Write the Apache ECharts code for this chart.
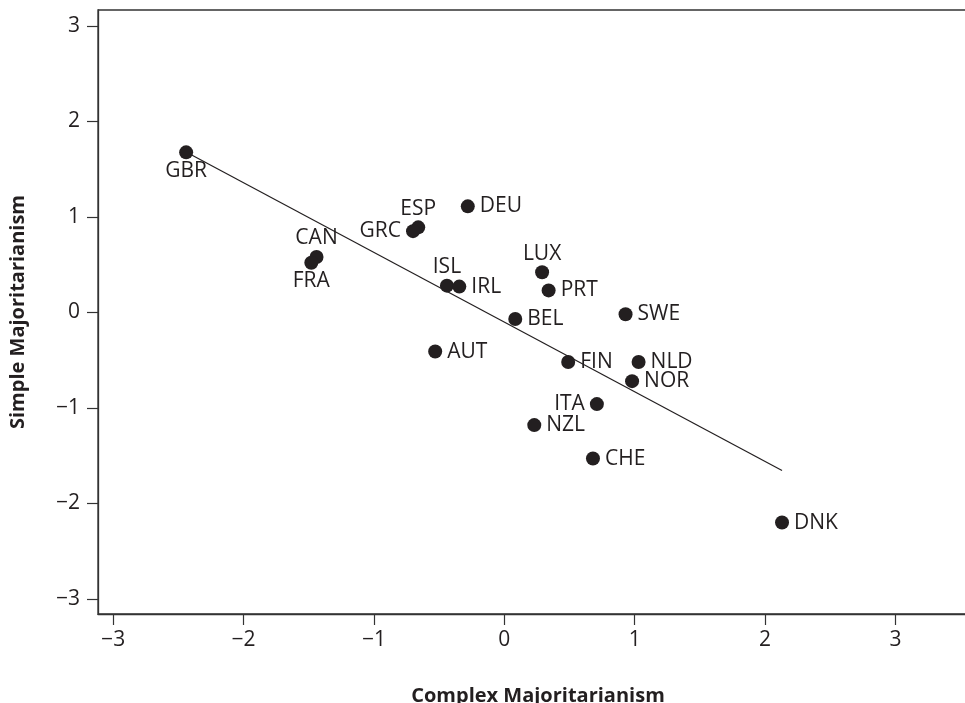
<!DOCTYPE html>
<html>
<head>
<meta charset="utf-8">
<script src="https://cdn.jsdelivr.net/npm/echarts@6/dist/echarts.min.js"></script>
<style>
html,body{margin:0;padding:0;background:#fff;}
#c{width:965px;height:703px;}
</style>
</head>
<body>
<div id="c"></div>
<script>
// Data
var countries = ['GBR','CAN','FRA','ESP','GRC','DEU','ISL','IRL','LUX','PRT','BEL','SWE','AUT','FIN','NLD','NOR','ITA','NZL','CHE','DNK'];
var complexMaj = [-2.44,-1.44,-1.48,-0.66,-0.70,-0.28,-0.44,-0.345,0.29,0.34,0.084,0.93,-0.53,0.49,1.03,0.98,0.71,0.23,0.68,2.13];
var simpleMaj  = [1.675,0.58,0.52,0.89,0.85,1.11,0.28,0.27,0.42,0.23,-0.07,-0.02,-0.41,-0.52,-0.52,-0.72,-0.96,-1.18,-1.53,-2.20];
var labelPos   = ['bottom','top','bottom','top','left','right','top','right','top','right','right','right','right','right','right','right','left','right','right','right'];
var fitX = [-2.43, 2.13];
var fitY = [1.67, -1.655];
var tickValues = [-3,-2,-1,0,1,2,3];

var ink = '#231f20';
var fontFam = '"Open Sans", sans-serif';

var pts = countries.map(function(c,i){
  var lp = labelPos[i];
  return {
    value:[complexMaj[i], simpleMaj[i]],
    name:c,
    label:{position:lp, distance:(lp==='top'||lp==='bottom')?1:5}
  };
});
var lineData = fitX.map(function(x,i){return [x, fitY[i]];});

function fmt(v){ return v < 0 ? '\u2212' + Math.abs(v) : String(v); }

var chart = echarts.init(document.getElementById('c'), null, {renderer:'canvas'});
chart.setOption({
  animation:false,
  backgroundColor:'#fff',
  grid:{left:98, top:10, width:880, bottom:89, outerBoundsMode:'none', containLabel:false, show:true, borderColor:'#333', borderWidth:1.3, backgroundColor:'transparent'},
  xAxis:{
    type:'value', min:-3.116, max:3.633,
    name:'Complex Majoritarianism', nameLocation:'middle', nameGap:72,
    nameTextStyle:{fontFamily:fontFam, fontWeight:'bold', fontSize:20, color:ink},
    axisLine:{show:true, onZero:false, lineStyle:{color:'#333', width:1.3}},
    axisTick:{show:true, length:11, customValues:tickValues, lineStyle:{color:'#333', width:1.2}},
    axisLabel:{customValues:tickValues, formatter:fmt, margin:16, fontFamily:fontFam, fontSize:21, color:ink},
    splitLine:{show:false}
  },
  yAxis:{
    type:'value', min:-3.157, max:3.165,
    name:'Simple Majoritarianism', nameLocation:'middle', nameGap:70, nameRotate:90,
    nameTextStyle:{fontFamily:fontFam, fontWeight:'bold', fontSize:20, color:ink},
    axisLine:{show:true, onZero:false, lineStyle:{color:'#333', width:1.3}},
    axisTick:{show:true, length:11, customValues:tickValues, lineStyle:{color:'#333', width:1.2}},
    axisLabel:{customValues:tickValues, formatter:fmt, margin:18, fontFamily:fontFam, fontSize:21, color:ink},
    splitLine:{show:false}
  },
  series:[
    {
      type:'line', data:lineData, showSymbol:false, symbol:'none',
      lineStyle:{color:ink, width:1.2}, z:1, silent:true
    },
    {
      type:'scatter', data:pts, symbol:'circle', symbolSize:14,
      itemStyle:{color:ink, opacity:1},
      label:{show:true, formatter:function(p){return p.name;}, fontFamily:fontFam, fontSize:21, color:ink},
      labelLayout:{hideOverlap:false},
      z:2
    }
  ]
});
</script>
</body>
</html>
